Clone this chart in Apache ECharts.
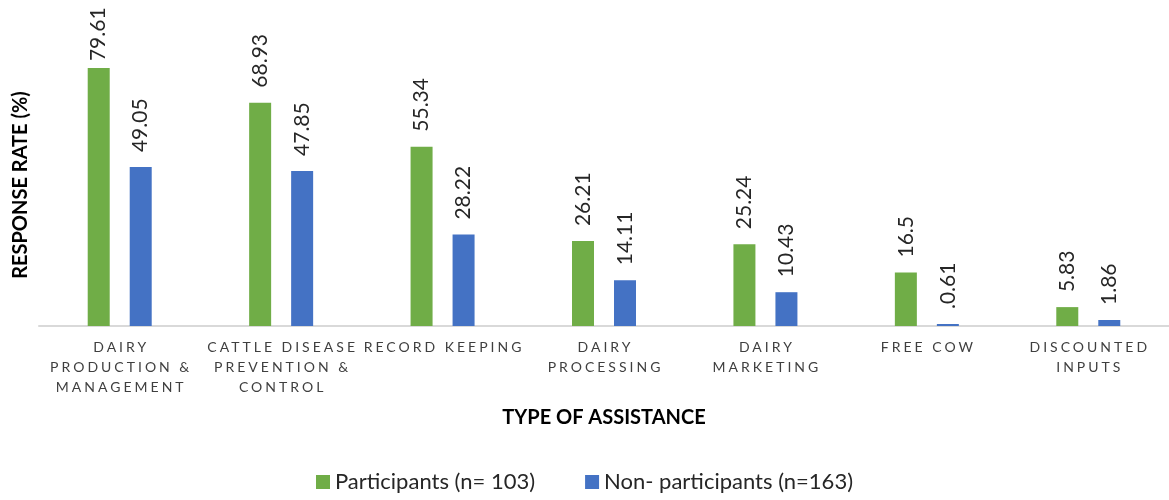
<!DOCTYPE html>
<html>
<head>
<meta charset="utf-8">
<script src="https://cdn.jsdelivr.net/npm/echarts@6/dist/echarts.min.js"></script>
<style>
  html, body { margin: 0; padding: 0; background: #fff; }
  #chart { width: 1169px; height: 500px; }
</style>
</head>
<body>
<div id="chart"></div>
<script>
const categories = [
  'DAIRY\nPRODUCTION &\nMANAGEMENT',
  'CATTLE DISEASE\nPREVENTION &\nCONTROL',
  'RECORD KEEPING',
  'DAIRY\nPROCESSING',
  'DAIRY\nMARKETING',
  'FREE COW',
  'DISCOUNTED\nINPUTS'
];
const participants = [79.61, 68.93, 55.34, 26.21, 25.24, 16.5, 5.83];
const nonParticipants = [49.05, 47.85, 28.22, 14.11, 10.43, 0.61, 1.86];
// labels as printed in the source (note ".0.61")
const participantLabels = ['79.61', '68.93', '55.34', '26.21', '25.24', '16.5', '5.83'];
const nonParticipantLabels = ['49.05', '47.85', '28.22', '14.11', '10.43', '.0.61', '1.86'];

// category labels are letter-spaced in the original; canvas can do that,
// so switch it on only for text drawn in the category label colour
const CAT_COLOR = '#3f3f3f';
const origFillText = CanvasRenderingContext2D.prototype.fillText;
CanvasRenderingContext2D.prototype.fillText = function (t, x, y, w) {
  if (this.fillStyle !== CAT_COLOR || !('letterSpacing' in this)) {
    return origFillText.call(this, t, x, y, w);
  }
  const font = this.font;
  this.letterSpacing = '3px';
  this.font = font;
  origFillText.call(this, t, x + 1.5, y, w);
  this.letterSpacing = '0px';
  this.font = font;
};

const BAR_W = 22;
const BAR_GAP = 20; // px between the two bars of a category

// vertical value labels, placed through the axis scales with api.coord
function valueLabels(values, texts, side, firstGap) {
  return {
    type: 'custom',
    silent: true,
    z: 5,
    data: values.map((v, i) => [i, v]),
    encode: { x: 0, y: 1 },
    renderItem: (params, api) => {
      const i = params.dataIndex;
      const p = api.coord([api.value(0), api.value(1)]);
      const gap = i === 0 && firstGap != null ? firstGap : 15;
      return {
        type: 'text',
        x: p[0] + side * (BAR_W + BAR_GAP) / 2,
        y: p[1] - gap,
        rotation: Math.PI / 2,
        style: {
          text: texts[i],
          font: '21px Lato',
          fill: '#262626',
          align: 'left',
          verticalAlign: 'middle'
        }
      };
    }
  };
}

const chart = echarts.init(document.getElementById('chart'));

chart.setOption({
  animation: false,
  textStyle: { fontFamily: 'Lato' },
  grid: { left: 39, right: -2, top: 2, bottom: 174 },
  legend: {
    bottom: 2,
    left: 'center',
    itemWidth: 14,
    itemHeight: 14,
    itemGap: 50,
    icon: 'rect',
    textStyle: { fontFamily: 'Lato', fontSize: 22, color: '#262626' },
    data: ['Participants (n= 103)', 'Non- participants (n=163)']
  },
  xAxis: {
    type: 'category',
    data: categories,
    name: 'TYPE OF ASSISTANCE',
    nameLocation: 'middle',
    nameGap: 82,
    nameTextStyle: { fontFamily: 'Lato', fontSize: 20, fontWeight: 'bold', color: '#000' },
    axisLine: { lineStyle: { color: '#d9d9d9', width: 2 } },
    axisTick: { show: false },
    axisLabel: {
      interval: 0,
      margin: 11,
      fontFamily: 'Lato',
      fontSize: 14,
      lineHeight: 20,
      color: CAT_COLOR
    }
  },
  yAxis: {
    type: 'value',
    min: 0,
    max: 100,
    show: false
  },
  graphic: [{
    type: 'text',
    x: 21,
    y: 185,
    rotation: Math.PI / 2,
    style: {
      text: 'RESPONSE RATE (%)',
      font: 'bold 20px Lato',
      fill: '#000',
      align: 'center',
      verticalAlign: 'middle'
    }
  }],
  series: [{
    name: 'Participants (n= 103)',
    type: 'bar',
    data: participants,
    barWidth: BAR_W,
    barGap: (BAR_GAP / BAR_W * 100) + '%',
    itemStyle: { color: '#70ad47' }
  }, {
    name: 'Non- participants (n=163)',
    type: 'bar',
    data: nonParticipants,
    barWidth: BAR_W,
    itemStyle: { color: '#4472c4' }
  },
  valueLabels(participants, participantLabels, -1, 7),
  valueLabels(nonParticipants, nonParticipantLabels, 1)
  ]
});
</script>
</body>
</html>
